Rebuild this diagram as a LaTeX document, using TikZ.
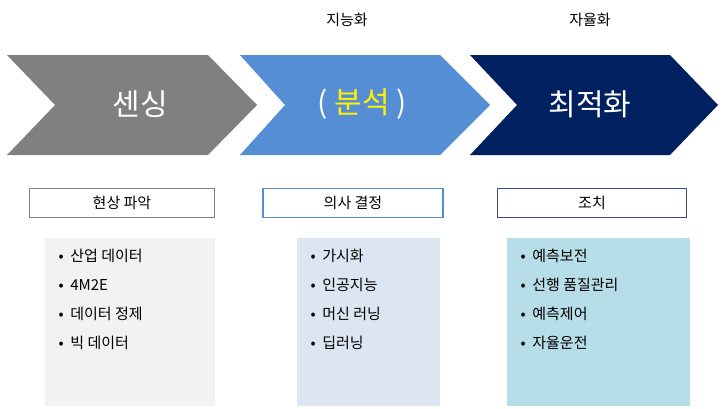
\documentclass[tikz,border=0pt]{standalone}
\usepackage{fontspec}
\setmainfont{Noto Sans CJK KR}
\usetikzlibrary{positioning}
\definecolor{grayarrow}{RGB}{128,128,128}
\definecolor{bluearrow}{RGB}{85,142,213}
\definecolor{navyarrow}{RGB}{0,32,96}
\definecolor{graybg}{RGB}{242,242,242}
\definecolor{bluebg}{RGB}{220,230,242}
\definecolor{cyanbg}{RGB}{183,222,232}
\tikzstyle{chev} = [draw=none]
\tikzstyle{big} = [font=\fontsize{30}{34}\selectfont, text=white]
\tikzstyle{head} = [draw, line width=1.2pt, fill=white, minimum height=29pt, font=\fontsize{15}{18}\selectfont]
\tikzstyle{list} = [align=left, anchor=north west, font=\fontsize{15}{29}\selectfont]
\tikzstyle{top} = [font=\fontsize{15}{18}\selectfont]
\begin{document}
\begin{tikzpicture}[x=1pt, y=-1pt]
    \useasboundingbox (0,0) rectangle (725,408);

    % Chevrons.
    \fill [grayarrow] (7,55) -- (208,55) -- (257,105) -- (208,155) -- (7,155) -- (55,105) -- cycle;
    \fill [bluearrow] (240,55) -- (440,55) -- (490,105) -- (440,155) -- (240,155) -- (285,105) -- cycle;
    \fill [navyarrow] (470,55) -- (670,55) -- (718,105) -- (670,155) -- (470,155) -- (517,105) -- cycle;
    \node (sense) [big] at (140,104) {센싱};
    \node (anal) [big] at (362,104) {( \textcolor{yellow}{분석} )};
    \node (opti) [big] at (590,104) {최적화};
    \node (intel) [top] at (347,20) {지능화};
    \node (auto) [top] at (590,20) {자율화};

    % Lists.
    \fill [graybg] (45,238) rectangle (215,406);
    \fill [bluebg] (297,238) rectangle (440,406);
    \fill [cyanbg] (507,238) rectangle (690,406);
    \node (list1) [list] at (55,246) {• \ 산업 데이터\\• \ 4M2E\\• \ 데이터 정제\\• \ 빅 데이터};
    \node (list2) [list] at (307,246) {• \ 가시화\\• \ 인공지능\\• \ 머신 러닝\\• \ 딥러닝};
    \node (list3) [list] at (517,246) {• \ 예측보전\\• \ 선행 품질관리\\• \ 예측제어\\• \ 자율운전};

    % Headings.
    \node (find) [head, draw=grayarrow, minimum width=185pt] at (122,203) {현상 파악};
    \node (decide) [head, draw=bluearrow, minimum width=180pt] at (353,203) {의사 결정};
    \node (act) [head, draw=navyarrow!80, minimum width=189pt] at (592,203) {조치};
\end{tikzpicture}
\end{document}
